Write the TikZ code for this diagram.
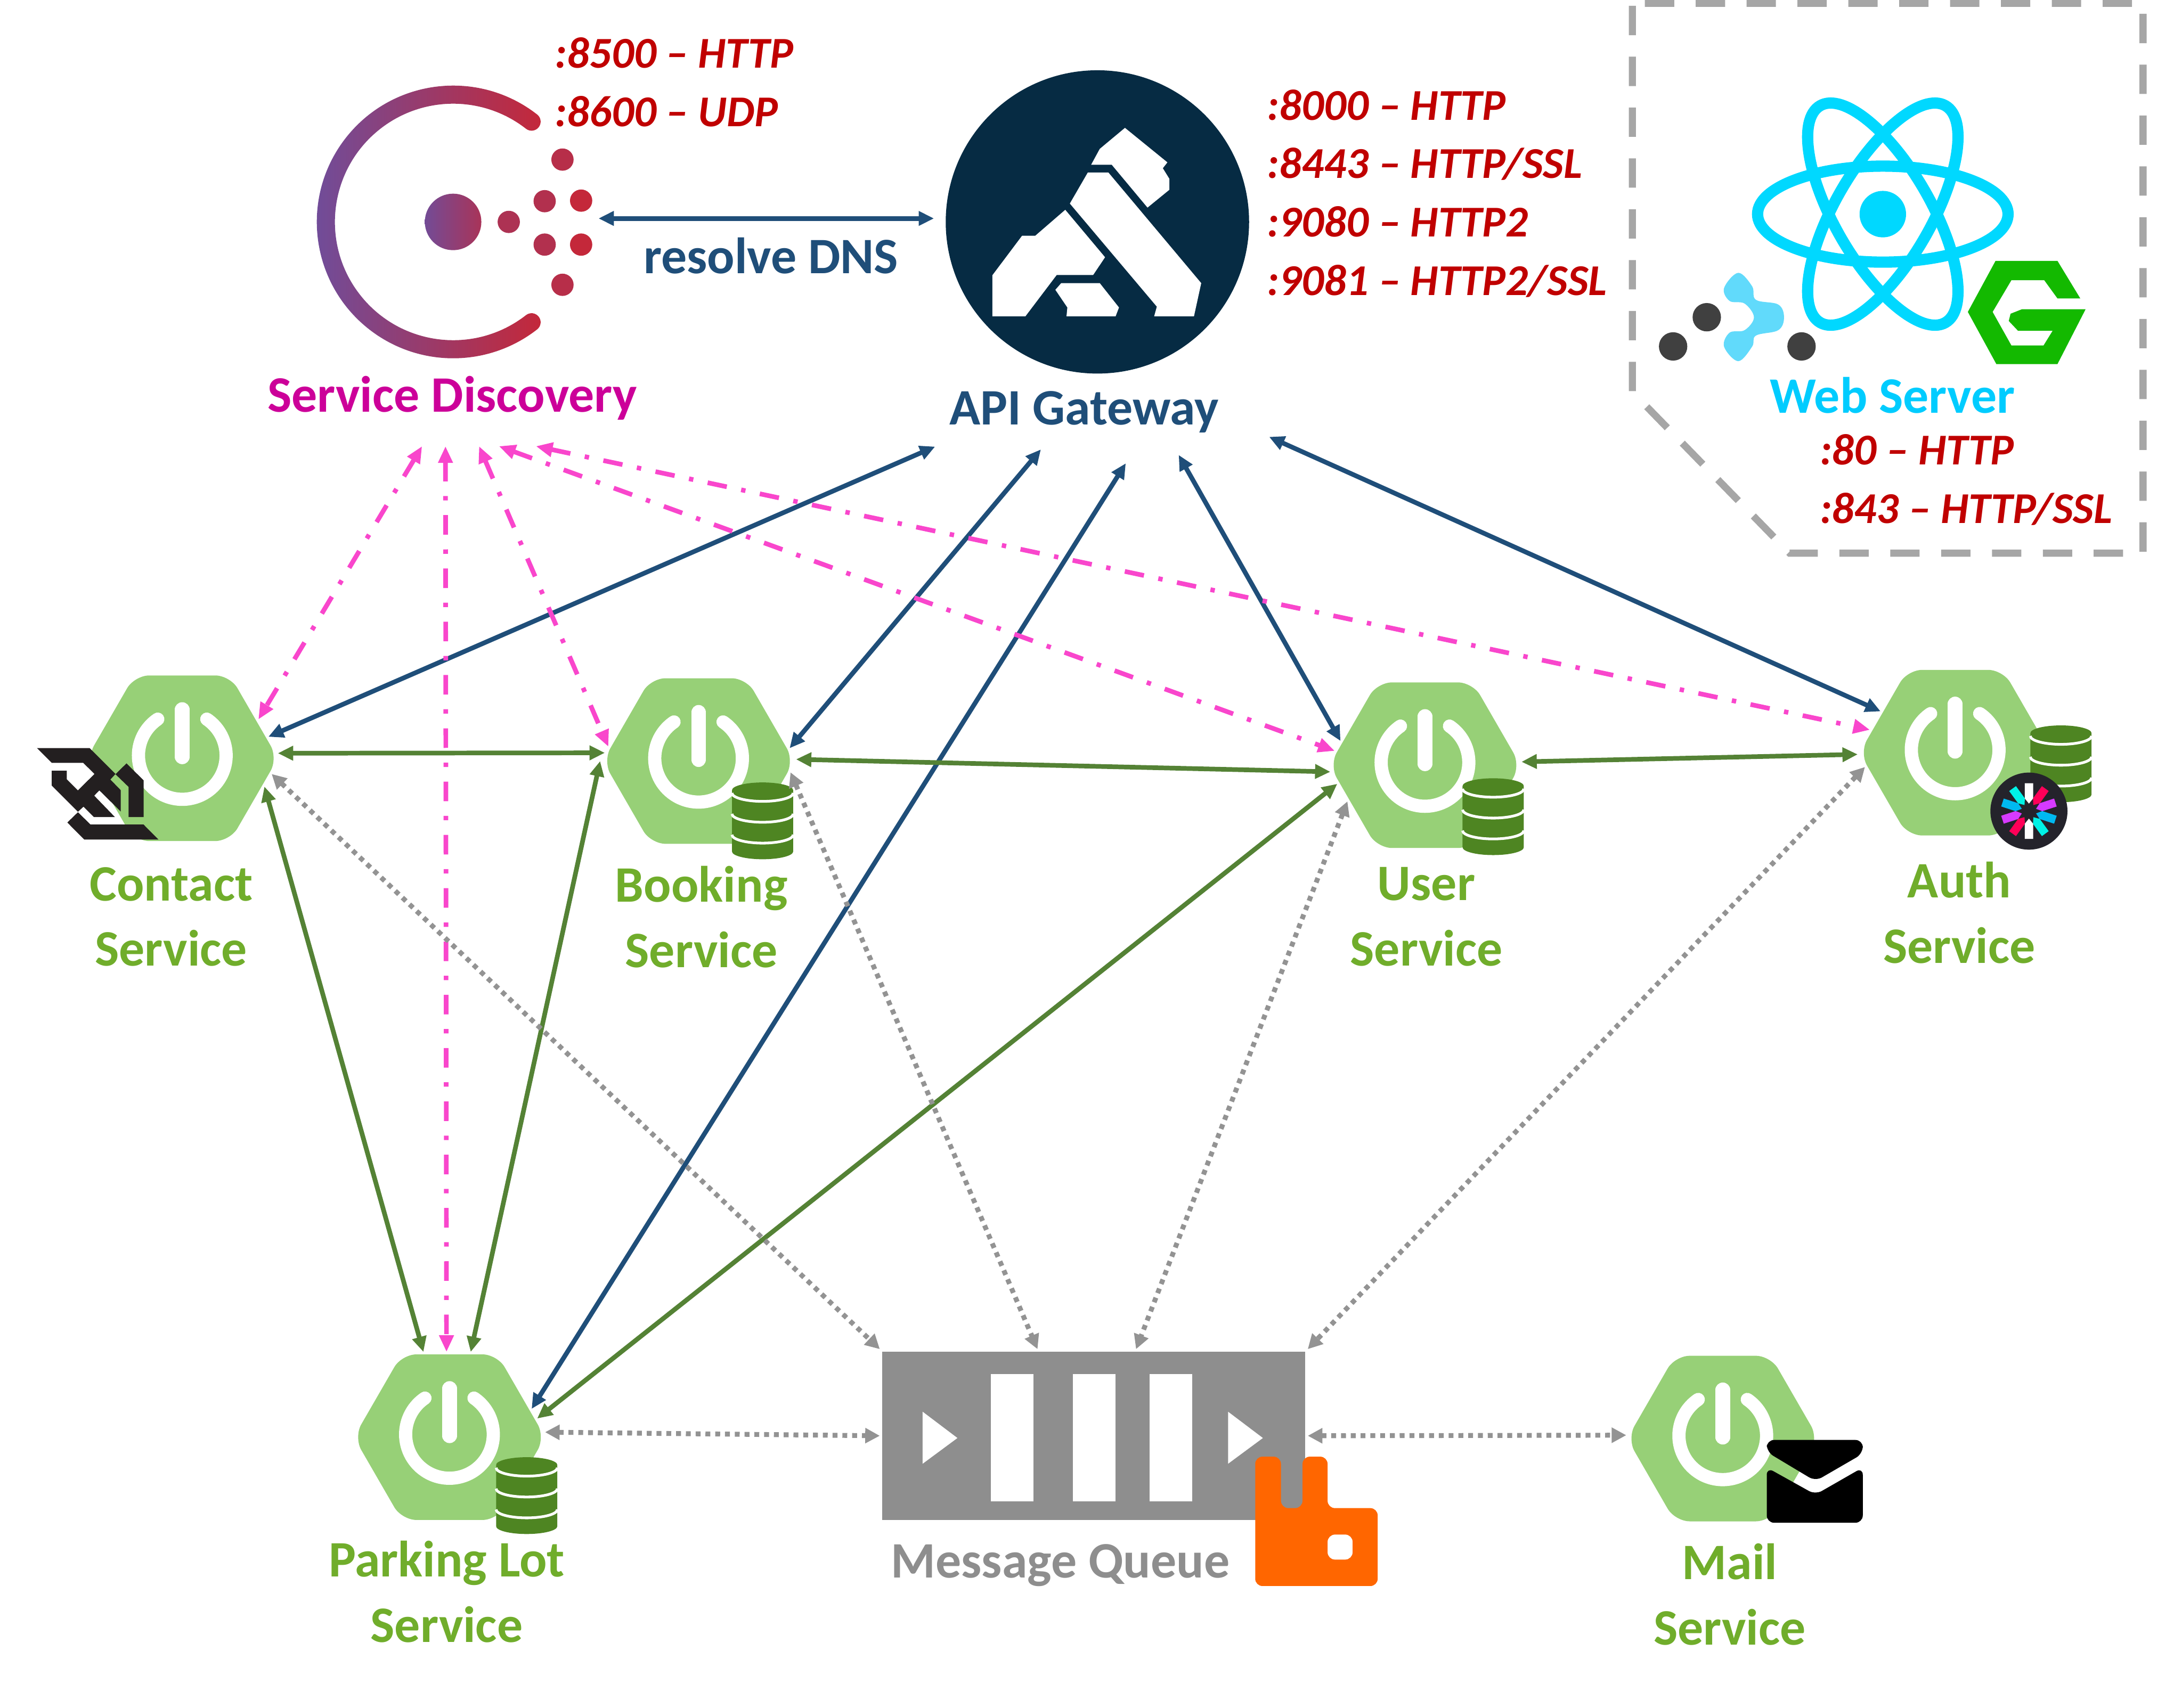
\documentclass[tikz,border=0pt]{standalone}
\usepackage{fontspec}
\setmainfont{Carlito}
\usepackage{xcolor}
\usepackage{tikz}
\usetikzlibrary{arrows.meta, positioning, shapes.geometric, calc}

\definecolor{gatewayblue}{HTML}{1F4E79}
\definecolor{linkgreen}{HTML}{548235}
\definecolor{discoverypink}{HTML}{F946CC}
\definecolor{queuegray}{HTML}{939393}
\definecolor{boxgray}{HTML}{8E8E8E}
\definecolor{framegray}{HTML}{A6A6A6}
\definecolor{servicegreen}{HTML}{70AD2B}
\definecolor{hexgreen}{HTML}{97D077}
\definecolor{dbgreen}{HTML}{4E8522}
\definecolor{labelmagenta}{HTML}{CC0099}
\definecolor{portred}{HTML}{C00000}
\definecolor{kongnavy}{HTML}{062B43}
\definecolor{reactcyan}{HTML}{00D8FF}
\definecolor{webcyan}{HTML}{00CCFF}
\definecolor{dotdark}{HTML}{404040}
\definecolor{blobblue}{HTML}{61DAFB}
\definecolor{nginxgreen}{HTML}{13B900}
\definecolor{rabbitorange}{HTML}{FF6600}
\definecolor{jwtdark}{HTML}{24232B}
\definecolor{jwtpink}{HTML}{FF0058}
\definecolor{jwtpurple}{HTML}{D63AFF}
\definecolor{jwtblue}{HTML}{00B9F1}
\definecolor{jwtcyan}{HTML}{00F2E6}
\definecolor{wsblack}{HTML}{231F20}
\definecolor{consulpurple}{HTML}{6A4FA0}
\definecolor{consulred}{HTML}{C4283A}

\begin{document}
\begin{tikzpicture}[
    x=0.1mm, y=-0.1mm,
    hexnode/.style={regular polygon, regular polygon sides=6, minimum size=13.74mm,
                    inner sep=0pt, outer sep=.5pt, fill=hexgreen, rounded corners=3pt},
    bigtext/.style={font=\bfseries\fontsize{10.45}{13.37}\selectfont, align=center, inner sep=0pt},
    svctext/.style={bigtext, text=servicegreen},
    porttext/.style={font=\bfseries\itshape\fontsize{9}{11.95}\selectfont, text=portred,
                     align=left, anchor=west, inner sep=0pt},
    bluelink/.style={draw=gatewayblue, line width=.95pt, <->,
                     >={Triangle[length=1.1mm,width=1mm]}},
    greenlink/.style={draw=linkgreen, line width=.95pt, <->,
                      >={Triangle[length=1.1mm,width=1mm]}},
    pinklink/.style={draw=discoverypink, line width=.95pt, <->,
                     dash pattern=on 4pt off 3pt on .9pt off 3pt,
                     >={Triangle[length=1.2mm,width=1mm]}},
    graylink/.style={draw=queuegray, line width=1pt, <->,
                     dash pattern=on 1pt off 1pt,
                     >={Triangle[length=1.05mm,width=1.05mm]}},
    powermark/.pic={
      \draw[white, line width=2.7pt, line cap=round]
        (17.6,-28.1) arc[start angle=-56, end angle=236, radius=31.5];
      \draw[white, line width=3pt, line cap=round] (0,-35) -- (0,-1);
    },
    dbstack/.pic={
      \fill[dbgreen] (-22,-22) -- (-22,22) arc[start angle=180, end angle=0, x radius=22, y radius=5.6]
        -- (22,-22) arc[start angle=0, end angle=-180, x radius=22, y radius=5.6] -- cycle;
      \foreach \bandy in {-20,-5,10}
        \draw[white, line width=.55pt] (-22,\bandy) arc[start angle=180, end angle=0, x radius=22, y radius=6];
    }
  ]
    \useasboundingbox (0,0) rectangle (1568,1227.4);

    % Web server frame
    \draw[framegray, line width=1.45pt, dash pattern=on 6pt off 4.4pt]
      (1182,2.4) -- (1540,2.4) -- (1540,397.6) -- (1286,397.6) -- (1173,281.7) -- (1173,2.4) -- cycle;

    % React
    \begin{scope}[shift={(1353,153.9)}, reactcyan]
      \fill (0,0) circle[radius=16.7];
      \foreach \tilt in {0,60,-60}
        \draw[line width=2.3pt, rotate=\tilt] (0,0) ellipse[x radius=90, y radius=34.5];
    \end{scope}

    % Nginx
    \fill[nginxgreen] (1434,187.5) -- (1478.5,187.5) -- (1494.9,214.5) -- (1478.5,214.5)
      -- (1469,201.4) -- (1445.4,201.4) -- (1431.9,224.2) -- (1445.4,248.3) -- (1468.5,248.3)
      -- (1475,237.8) -- (1450.2,237.8) -- (1443.5,230.7) -- (1444.8,225.5) -- (1452.9,222.3)
      -- (1498.7,222.3) -- (1478.5,261.7) -- (1434.6,261.7) -- (1414.1,224.2) -- cycle;

    % Dots and blob
    \foreach \dotx/\doty in {1226.5/228, 1202.3/249, 1294.6/249}
      \fill[dotdark] (\dotx,\doty) circle[radius=10.2];
    \fill[blobblue] plot[smooth cycle, tension=.6] coordinates {(1249.1,196.1) (1259.1,205.8)
      (1261.8,215.5) (1277.9,218.9) (1282,228.1) (1277.9,237.3) (1261.8,241.2) (1259.1,249.1)
      (1249.1,259.6) (1238.9,249.1) (1242.9,239.1) (1253.7,237.3) (1260.4,228.1) (1253.7,218.2)
      (1242.9,216.3) (1238.9,207.1)};

    \node[bigtext, text=webcyan] (webserver) at (1360,284) {Web Server};
    \node[porttext] (webports) at (1307,345) {:80 -- HTTP\\:843 -- HTTP/SSL};

    % Consul
    \node[circle, minimum size=20.9mm, inner sep=0pt, outer sep=0pt] (consul) at (325.6,157) {};
    \shade[left color=consulpurple, right color=consulred]
      (386,82.3) arc[start angle=-52, end angle=-308, radius=98]
      arc[start angle=-308, end angle=-488, radius=6.5]
      arc[start angle=-308, end angle=-52, radius=85]
      arc[start angle=128, end angle=-52, radius=6.5] -- cycle;
    \shade[left color=consulpurple!90!consulred, right color=consulred!70!consulpurple]
      (325.6,159.5) circle[radius=20.3];
    \foreach \dotx/\doty/\dotmix in {404.2/114.7/85, 391.4/144.6/80, 417.6/144.2/100,
        365.6/159.5/75, 391.4/175.8/80, 417.6/175.8/100, 404.2/204.7/85}
      \fill[consulred!\dotmix!consulpurple] (\dotx,\doty) circle[radius=8];
    \node[bigtext, text=labelmagenta, minimum height=6.8mm] (discoverylabel) at (325,286) {Service Discovery};
    \node[porttext] (consulports) at (398,59) {:8500 -- HTTP\\:8600 -- UDP};

    % Kong
    \node[circle, fill=kongnavy, minimum size=21.8mm, inner sep=0pt, outer sep=2.4pt] (kong) at (788.6,159.5) {};
    \fill[white] (808.4,91.9) -- (838.9,116.7) -- (835.6,120.9) -- (840.3,128.5) -- (840.3,136.4)
      -- (824.6,149.2) -- (798.9,118.4) -- (784.1,118.4) -- (790.3,107) -- cycle;
    \fill[white] (781.7,124) -- (796.5,124) -- (863.2,203.5) -- (858,227.3) -- (829.4,227.3)
      -- (831.3,220.4) -- (768.8,146.3) -- cycle;
    \fill[white] (765.5,150.8) -- (794.1,184.9) -- (785.5,197.7) -- (759.3,197.7) -- (736.9,227.3)
      -- (713.1,227.3) -- (713.1,197.9) -- (734.5,169.4) -- (744,169.4) -- cycle;
    \fill[white] (762.6,203.5) -- (790.3,203.5) -- (804.1,221) -- (801.7,227.3) -- (766.4,227.3)
      -- (767,221) -- (758.4,208.3) -- cycle;
    \node[bigtext, text=gatewayblue] (apilabel) at (779,296) {API Gateway};
    \node[porttext] (kongports) at (910,139) {:8000 -- HTTP\\:8443 -- HTTP/SSL\\:9080 -- HTTP2\\:9081 -- HTTP2/SSL};
    \coordinate (dnsend) at ([shift={(0,-2.5)}]kong.west);
    \coordinate (gwcontact) at ([shift={(-107,25)}]apilabel.center);
    \coordinate (gwbooking) at ([shift={(-31,27)}]apilabel.center);
    \coordinate (gwparking) at ([shift={(30,37)}]apilabel.center);
    \coordinate (gwuser) at ([shift={(68,31)}]apilabel.center);
    \coordinate (gwauth) at ([shift={(133,18)}]apilabel.center);

    % Services
    \node[hexnode] (contact) at (131,545) {};
    \node[hexnode] (booking) at (502,547) {};
    \node[hexnode] (user) at (1024,550) {};
    \node[hexnode] (auth) at (1405,541) {};
    \node[hexnode] (parking) at (323,1033) {};
    \node[hexnode] (mail) at (1238,1034) {};
    \foreach \svc in {contact,booking,user,auth,parking,mail}
      \pic at (\svc) {powermark};

    \pic at (548,590) {dbstack};
    \pic at (1073,587) {dbstack};
    \pic at (1481,549) {dbstack};
    \pic at (378.5,1075) {dbstack};

    \node[svctext] (contacttext) at (123,659) {Contact\\Service};
    \node[svctext] (bookingtext) at (504,659) {Booking\\Service};
    \node[svctext] (usertext) at (1025,659) {User\\Service};
    \node[svctext] (authtext) at (1408,656) {Auth\\Service};
    \node[svctext] (parkingtext) at (321,1144) {Parking Lot\\Service};
    \node[svctext] (mailtext) at (1243,1146) {Mail\\Service};

    % WebSocket mark
    \fill[wsblack] (26.6,537.7) -- (64.4,537.7) -- (83,556.3) -- (79.3,560.3) -- (86.8,568)
      -- (86.8,583.3) -- (71.4,568.1) -- (67.7,571.9) -- (82.6,587.3) -- (67.5,587.3) -- (60,579.8)
      -- (56,583.5) -- (37.2,564.7) -- (37.2,554) -- (48,554) -- (48,560.1) -- (56,568.1)
      -- (67.9,556.3) -- (59.8,548.3) -- (37.2,548.3) -- cycle;
    \fill[wsblack] (90.9,548.7) -- (103.2,560.9) -- (103.2,587.3) -- (92.4,587.3) -- (92.4,565.6)
      -- (83,556.5) -- cycle;
    \fill[wsblack] (56,583.8) -- (65,592.6) -- (103.1,592.6) -- (113.8,603.4) -- (60.5,603.4)
      -- (48.4,591.2) -- cycle;

    % JWT mark
    \begin{scope}[shift={(1458,583)}]
      \fill[jwtdark] (0,0) circle[radius=27.7];
      \foreach \ang/\petal in {90/white, 54/jwtpink, 18/jwtpurple, -18/jwtblue, -54/jwtcyan,
          -90/white, -126/jwtpink, -162/jwtpurple, 162/jwtblue, 126/jwtcyan}
        \fill[\petal, rotate=\ang] (5.4,0) -- (9.1,-3) -- (20,-3) -- (20,3) -- (9.1,3) -- cycle;
    \end{scope}

    % Mail mark
    \fill[black, rounded corners=1.5pt] (1269.6,1035) -- (1338.6,1035) -- (1338.6,1044.9) -- (1304.6,1064.6) -- (1269.6,1043.6) -- cycle;
    \fill[black, rounded corners=1.5pt] (1269.6,1054.8) -- (1304.6,1074.3) -- (1338.6,1054.8) -- (1338.6,1094.5) -- (1269.6,1094.5) -- cycle;

    % Message queue
    \node[rectangle, fill=boxgray, minimum width=30.4mm, minimum height=12.1mm, inner sep=0pt, outer sep=.5pt] (queue) at (786,1032) {};
    \foreach \barx in {712,771,826}
      \fill[white] (\barx,987.6) rectangle ++(30.6,91.4);
    \foreach \trix in {663,882.5}
      \fill[white] (\trix,1014.7) -- ++(25,18.9) -- ++(-25,18.5) -- cycle;
    \fill[rabbitorange, rounded corners=1.5pt, even odd rule]
      (902,1047) -- (920.5,1047) -- (920.5,1084) -- (936,1084) -- (936,1047) -- (954,1047)
      -- (954,1084) -- (990,1084) -- (990,1140) -- (902,1140) -- cycle
      (954,1103) rectangle (972,1121);
    \node[bigtext, text=boxgray] (queuetext) at (762,1125) {Message Queue};

    % DNS
    \node[bigtext, text=gatewayblue] (dnstext) at (554,184) {resolve DNS};
    \draw[bluelink] (consul.east) -- (dnsend);

    % API Gateway links
    \draw[bluelink] (gwcontact) -- (contact.14);
    \draw[bluelink] (gwbooking) -- (booking.8.6);
    \draw[bluelink] (gwparking) -- (parking.19.9);
    \draw[bluelink] (gwuser) -- (user.164.7);
    \draw[bluelink] (gwauth) -- (auth.151.8);

    % Discovery links
    \draw[pinklink] (discoverylabel.238.6) -- (contact.27);
    \draw[pinklink] (discoverylabel.262) -- (parking.92.7);
    \draw[pinklink] (discoverylabel.299) -- (booking.171);
    \draw[pinklink] (discoverylabel.314) -- (user.171.8);
    \draw[pinklink] (discoverylabel.330) -- (auth.165.8);

    % Service links
    \draw[greenlink] (contact.3.5) -- (booking.175);
    \draw[greenlink] (booking.1.6) -- (user.184.3);
    \draw[greenlink] (user.2.5) -- (auth.181.6);
    \draw[greenlink] (contact.-19.3) -- (parking.107.4);
    \draw[greenlink] (booking.180) -- (parking.76.4);
    \draw[greenlink] (user.192.6) -- (parking.12);

    % Queue links
    \draw[graylink] (contact.-10.6) -- (queue.north west);
    \draw[graylink] (booking.-7) -- (queue.123);
    \draw[graylink] (user.205.8) -- (queue.64);
    \draw[graylink] (auth.189) -- (queue.north east);
    \draw[graylink] (parking.3.3) -- (queue.west);
    \draw[graylink] (queue.east) -- (mail.178.4);
  \end{tikzpicture}
\end{document}
